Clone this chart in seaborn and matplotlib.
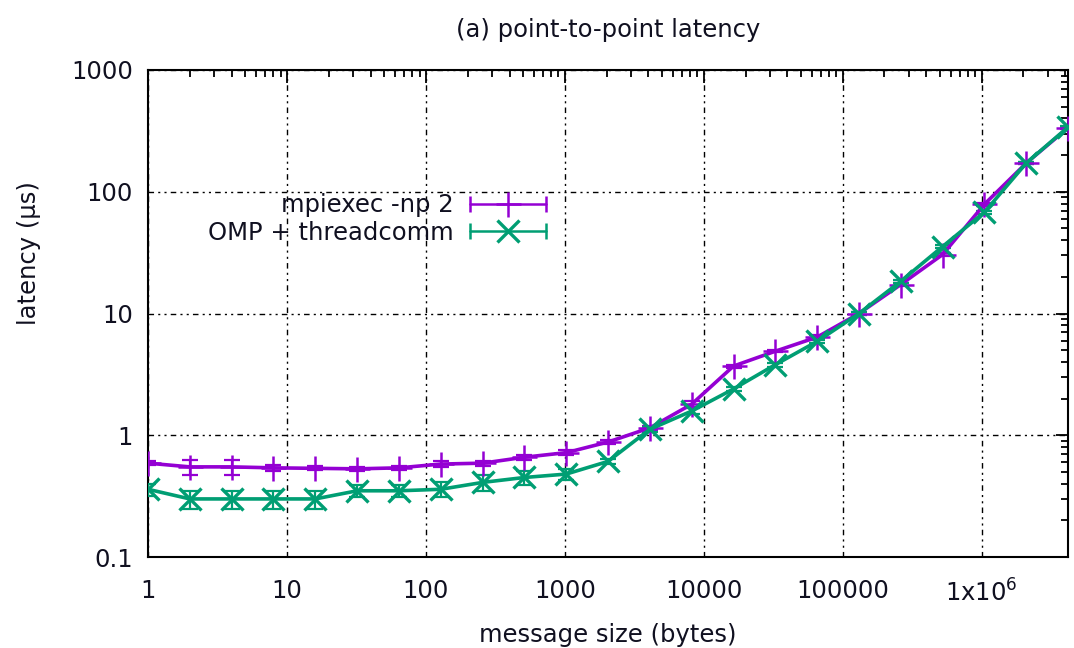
import numpy as np
import pandas as pd
import matplotlib
matplotlib.use("Agg")
import matplotlib.pyplot as plt
import seaborn as sns
from matplotlib.lines import Line2D
from matplotlib.legend_handler import HandlerLine2D, HandlerTuple
from matplotlib.ticker import LogLocator, FixedLocator, FixedFormatter, NullFormatter

# message sizes 1 .. 4 MiB (powers of two)
sizes = [1, 2, 4, 8, 16, 32, 64, 128, 256, 512, 1024, 2048, 4096, 8192,
         16384, 32768, 65536, 131072, 262144, 524288, 1048576, 2097152, 4194304]

# latency in microseconds
mpi_lat = [0.59, 0.55, 0.55, 0.54, 0.535, 0.53, 0.54, 0.58, 0.59, 0.66, 0.72, 0.88,
           1.15, 1.8, 3.7, 4.9, 6.4, 10.0, 17.3, 30.5, 79, 172, 335]
mpi_err = [0.02, 0.08, 0.08, 0.03, 0.02, 0.02, 0.02, 0.03, 0.03, 0.03, 0.03, 0.04,
           0.05, 0.1, 0.1, 0.1, 0.2, 0.3, 0.5, 1.0, 2.0, 4.0, 6.0]
omp_lat = [0.36, 0.30, 0.30, 0.30, 0.30, 0.35, 0.35, 0.36, 0.41, 0.45, 0.48, 0.61,
           1.12, 1.58, 2.4, 3.8, 5.9, 10.0, 18.4, 35.5, 68, 172, 340]
omp_err = [0.04, 0.05, 0.05, 0.05, 0.05, 0.04, 0.04, 0.05, 0.06, 0.06, 0.05, 0.03,
           0.05, 0.08, 0.1, 0.15, 0.2, 0.3, 0.5, 1.0, 2.0, 4.0, 6.0]

labels = ["mpiexec -np 2", "OMP + threadcomm"]
colors = ["#9400d3", "#009e73"]
markers = ["+", "x"]

xtick_vals = [1, 10, 100, 1000, 10000, 100000, 1000000]
xtick_labels = ["1", "10", "100", "1000", "10000", "100000", r"1x10$^6$"]
ytick_vals = [0.1, 1, 10, 100, 1000]
ytick_labels = ["0.1", "1", "10", "100", "1000"]

df = pd.DataFrame({
    "size": sizes * 2,
    "latency": mpi_lat + omp_lat,
    "err": mpi_err + omp_err,
    "run": [labels[0]] * len(sizes) + [labels[1]] * len(sizes),
})

sns.set_style("white")
plt.rcParams["font.family"] = ["DejaVu Sans"]
plt.rcParams["mathtext.fontset"] = "dejavusans"
fs = 17.5
txt_col = "#101020"

fig = plt.figure(figsize=(10.74, 6.48), dpi=100)
ax = fig.add_axes([0.1378, 0.1404, 0.8567, 0.7516])

handles = []
for lab, col, mk in zip(labels, colors, markers):
    sub = df[df["run"] == lab]
    ms = 16 if mk == "x" else 18
    mew = 2.4 if mk == "x" else 1.8
    ax.errorbar(sub["size"], sub["latency"], yerr=sub["err"], fmt="none",
                ecolor=col, elinewidth=1.6, capsize=6, capthick=1.6, zorder=3)
    sns.lineplot(data=sub, x="size", y="latency", color=col, marker=mk,
                 markersize=ms, markeredgewidth=mew, markeredgecolor=col,
                 linewidth=2.6, ax=ax, legend=False, zorder=4)
    caps = Line2D([0], [0], color=col, lw=1.8, marker="|", markersize=12, markeredgewidth=1.8)
    mark = Line2D([0], [0], color="none", marker=mk, markersize=ms,
                  markeredgecolor=col, markeredgewidth=mew)
    handles.append((caps, mark))

ax.set_xscale("log")
ax.set_yscale("log")
ax.set_xlim(1, 4194304)
ax.set_ylim(0.1, 1000)

ax.xaxis.set_major_locator(FixedLocator(xtick_vals))
ax.xaxis.set_major_formatter(FixedFormatter(xtick_labels))
ax.xaxis.set_minor_locator(LogLocator(base=10, subs=np.arange(2, 10), numticks=20))
ax.xaxis.set_minor_formatter(NullFormatter())
ax.yaxis.set_major_locator(FixedLocator(ytick_vals))
ax.yaxis.set_major_formatter(FixedFormatter(ytick_labels))
ax.yaxis.set_minor_locator(LogLocator(base=10, subs=np.arange(2, 10), numticks=20))
ax.yaxis.set_minor_formatter(NullFormatter())

ax.tick_params(which="both", direction="in", top=True, right=True, width=1.3,
               labelsize=fs, color="black", labelcolor=txt_col)
ax.tick_params(which="major", length=9)
ax.tick_params(axis="y", which="major", pad=11)
ax.tick_params(axis="x", which="major", pad=16)
ax.tick_params(which="minor", length=5)
for s in ax.spines.values():
    s.set_color("black")
    s.set_linewidth(1.5)

ax.grid(True, which="major", color="black", linestyle=(0, (4, 3, 1.5, 3, 1.5, 3)), linewidth=1.0)
ax.set_axisbelow(True)

ax.set_xlabel("message size (bytes)", fontsize=fs, labelpad=12, color=txt_col)
ax.set_ylabel("latency (µs)", fontsize=fs, color=txt_col)
ax.yaxis.set_label_coords(-0.116, 0.624)
ax.set_title("(a) point-to-point latency", fontsize=fs, pad=24, color=txt_col)

hmap = {}
for caps, mark in handles:
    hmap[caps] = HandlerLine2D(numpoints=2)
    hmap[mark] = HandlerLine2D(numpoints=1)
leg = ax.legend(handles, labels, loc="center right",
                bbox_to_anchor=(0.44, 0.694), frameon=False, markerfirst=False,
                fontsize=fs, handlelength=3.7, handletextpad=0.4, labelspacing=0.15,
                borderpad=0, borderaxespad=0,
                handler_map={tuple: HandlerTuple(ndivide=1), **hmap})
for t in leg.get_texts():
    t.set_color(txt_col)

fig.savefig("out.png", dpi=100)
